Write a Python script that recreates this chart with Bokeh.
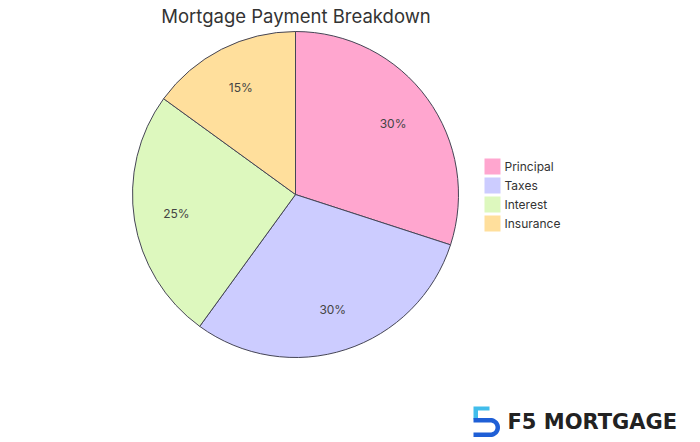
import numpy as np
from bokeh.plotting import figure
from bokeh.models import Range1d, ColumnDataSource
from bokeh.core.properties import value
from bokeh.embed import file_html
from bokeh.resources import INLINE

# ---- data ----
categories = ["Principal", "Taxes", "Interest", "Insurance"]
shares = [30, 30, 25, 15]
colors = ["#FFA6CF", "#CCCCFF", "#DDF8BE", "#FFDF9C"]
title_text = "Mortgage Payment Breakdown"
brand_text = "F5 MORTGAGE"

W, H = 700, 442
FONT = "Inter"

def X(px):  # page x -> data x
    return px

def Y(py):  # page y -> data y
    return H - py

p = figure(width=W, height=H, x_range=Range1d(0, W), y_range=Range1d(0, H),
           x_axis_type=None, y_axis_type=None, toolbar_location=None,
           output_backend="svg", min_border=0, outline_line_color=None,
           background_fill_color="white", border_fill_color="white")
p.grid.visible = False

# ---- pie ----
cx, cy, R = X(295), Y(194), 163
vals = np.array(shares, dtype=float)
frac = vals / vals.sum()
cum = np.cumsum(frac)
start = np.pi / 2 - (cum - frac) * 2 * np.pi
end = np.pi / 2 - cum * 2 * np.pi
mid = (start + end) / 2
src = ColumnDataSource(dict(cat=categories, start=start, end=end, color=colors,
                            lx=cx + 0.74 * R * np.cos(mid),
                            ly=cy + 0.74 * R * np.sin(mid),
                            lab=[f"{v:.0f}%" for v in frac * 100]))
p.wedge(x=cx, y=cy, radius=R, start_angle="start", end_angle="end",
        direction="clock", fill_color="color", line_color="#454555",
        line_width=1, source=src)
p.text(x="lx", y="ly", text="lab", source=src, text_align="center",
       text_baseline="middle", text_font=value(FONT), text_font_size="12px",
       text_color="#444444")

# ---- title ----
p.text(x=[X(295.5)], y=[Y(15.5)], text=[title_text], text_align="center",
       text_baseline="middle", text_font=value(FONT), text_font_size="18.5px",
       text_color="#333333")

# ---- legend ----
n = len(categories)
ly0 = Y(166)
leg_y = [ly0 - 19 * i for i in range(n)]
p.rect(x=[X(492)] * n, y=leg_y, width=16, height=16, width_units="screen",
       height_units="screen", fill_color=colors, line_color=None)
p.text(x=[X(504)] * n, y=leg_y, text=categories, text_align="left",
       text_baseline="middle", text_font=value(FONT), text_font_size="12px",
       text_color="#333333")

# ---- logo ----
light = [(473, 406), (489, 406), (489, 410), (477.5, 410), (477.5, 419), (473, 419)]
ro, ri, acx, acy = 9.5, 5.0, 490.0, 427.0
outer = [(acx + ro * np.cos(t), acy + ro * np.sin(t)) for t in np.linspace(-np.pi / 2, np.pi / 2, 24)]
inner = [(acx + ri * np.cos(t), acy + ri * np.sin(t)) for t in np.linspace(np.pi / 2, -np.pi / 2, 24)]
dark = [(473, 417.5)] + outer + [(473, 436.5), (473, 432)] + inner + [(473, 422)]
p.patch([X(a) for a, b in light], [Y(b) for a, b in light], fill_color="#41BDEB", line_color=None)
p.patch([X(a) for a, b in dark], [Y(b) for a, b in dark], fill_color="#1F5FD6", line_color=None)
p.text(x=[X(507)], y=[Y(421.5)], text=[brand_text], text_align="left",
       text_baseline="middle", text_font=value("DejaVu Sans"), text_font_size="21px",
       text_font_style="bold", text_color="#222222")

open("out.html", "w").write(file_html(p, INLINE))
